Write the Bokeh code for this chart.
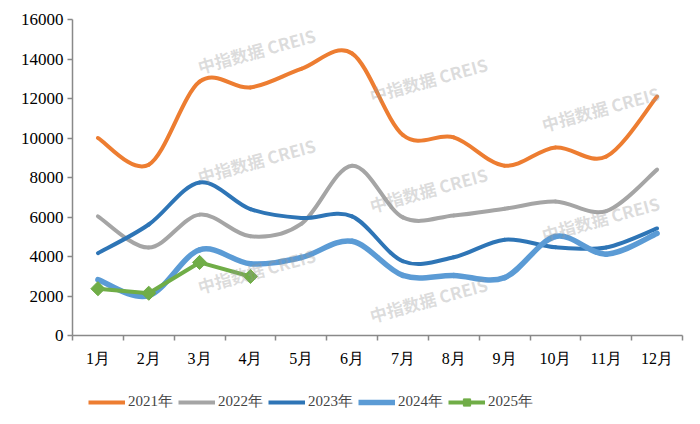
from bokeh.plotting import figure
from bokeh.layouts import column
from bokeh.models import (FixedTicker, ColumnDataSource, Legend, LegendItem,
                          Range1d, Label)
from bokeh.embed import file_html
from bokeh.resources import INLINE

# data
months = ["1月", "2月", "3月", "4月", "5月", "6月",
          "7月", "8月", "9月", "10月", "11月", "12月"]
y2021 = [10000, 8650, 12850, 12560, 13500, 14280, 10150, 10030, 8600, 9520, 9060, 12100]
y2022 = [6030, 4450, 6120, 5020, 5650, 8600, 5980, 6080, 6420, 6780, 6300, 8400]
y2023 = [4170, 5620, 7750, 6400, 5950, 6030, 3760, 3960, 4850, 4470, 4460, 5420]
y2024 = [2830, 2020, 4340, 3630, 3950, 4770, 3040, 3040, 2930, 5010, 4120, 5170]
y2025 = [2370, 2140, 3700, 2990]

series = [("2021年", y2021, "#ED7D31", 4),
          ("2022年", y2022, "#A5A5A5", 4),
          ("2023年", y2023, "#2E75B6", 4),
          ("2024年", y2024, "#5B9BD5", 5.5)]
GREEN = "#70AD47"

FONT = "Liberation Serif"
WATERMARK = "中指数据 CREIS"

p = figure(width=700, height=384, output_backend="svg", toolbar_location=None,
           x_range=Range1d(0, 12), y_range=Range1d(0, 16000))
p.min_border_left = 72
p.min_border_top = 19
p.min_border_right = 18
p.min_border_bottom = 49
p.outline_line_color = None
p.xgrid.visible = False
p.ygrid.visible = False

xs = [i + 0.5 for i in range(len(months))]


def smooth(x, y):
    # catmull-rom style control points, like office "smoothed line"
    n = len(x)
    d = dict(x0=[], y0=[], x1=[], y1=[], cx0=[], cy0=[], cx1=[], cy1=[])
    for i in range(n - 1):
        xp, yp = (x[i - 1], y[i - 1]) if i > 0 else (x[i], y[i])
        xn, yn = (x[i + 2], y[i + 2]) if i + 2 < n else (x[i + 1], y[i + 1])
        d["x0"].append(x[i]); d["y0"].append(y[i])
        d["x1"].append(x[i + 1]); d["y1"].append(y[i + 1])
        d["cx0"].append(x[i] + (x[i + 1] - xp) / 6)
        d["cy0"].append(y[i] + (y[i + 1] - yp) / 6)
        d["cx1"].append(x[i + 1] - (xn - x[i]) / 6)
        d["cy1"].append(y[i + 1] - (yn - y[i]) / 6)
    return ColumnDataSource(d)


for name, vals, col, w in series:
    src = smooth(xs, vals)
    p.bezier("x0", "y0", "x1", "y1", "cx0", "cy0", "cx1", "cy1", source=src,
             line_color=col, line_width=w, line_cap="round")

p.line(xs[:len(y2025)], y2025, line_color=GREEN, line_width=4)
p.scatter(xs[:len(y2025)], y2025, marker="square", angle=0.785,
          size=10, fill_color=GREEN, line_color=GREEN)

# faint watermark, tilted, in a staggered grid (screen px inside the frame)
for cx in range(3):
    for ry in range(3):
        if cx == 2 and ry == 0:
            continue
        sx = 184 + 172 * cx
        sy = 285 - 29 * cx - 110 * ry
        if cx == 2:
            sy += 110
        p.add_layout(Label(x=sx, y=sy, x_units="screen", y_units="screen",
                           text=WATERMARK, angle=0.27, text_align="center",
                           text_baseline="middle", text_font="Noto Sans CJK SC",
                           text_font_style="bold", text_font_size="17px",
                           text_color="#9a9a9a", text_alpha=0.35))

# axes
p.xaxis.ticker = FixedTicker(ticks=xs, minor_ticks=list(range(13)))
p.xaxis.major_label_overrides = {x: m for x, m in zip(xs, months)}
p.xaxis.major_tick_out = 0
p.xaxis.major_tick_in = 0
p.xaxis.minor_tick_out = 5
p.xaxis.minor_tick_in = 0
p.xaxis.major_label_standoff = 9
p.xaxis.major_label_text_font_size = "16px"

p.yaxis.ticker = FixedTicker(ticks=list(range(0, 16001, 2000)))
p.yaxis.major_tick_out = 5
p.yaxis.major_tick_in = 0
p.yaxis.minor_tick_out = 0
p.yaxis.minor_tick_in = 0
p.yaxis.major_label_standoff = 4
p.yaxis.major_label_text_font_size = "17px"

for ax in (p.xaxis, p.yaxis):
    ax.axis_line_color = "#898989"
    ax.axis_line_width = 1.5
    ax.major_tick_line_color = "#898989"
    ax.minor_tick_line_color = "#898989"
    ax.major_tick_line_width = 1.5
    ax.minor_tick_line_width = 1.5
    ax.major_label_text_font = FONT
    ax.major_label_text_color = "#000000"

# legend strip underneath, in its own small figure
lg = figure(width=700, height=40, output_backend="svg", toolbar_location=None,
            x_range=Range1d(0, 12), y_range=Range1d(0, 16000),
            x_axis_location=None, y_axis_location=None)
lg.min_border = 0
lg.outline_line_color = None
lg.xgrid.visible = False
lg.ygrid.visible = False

items = []
for name, vals, col, w in series:
    key = lg.line(xs, vals, line_color=col, line_width=w)
    key.visible = False
    items.append(LegendItem(label=name, renderers=[key]))
k_line = lg.line(xs[:len(y2025)], y2025, line_color=GREEN, line_width=4)
k_pts = lg.scatter(xs[:len(y2025)], y2025, marker="square", angle=0.785,
                   size=7, fill_color=GREEN, line_color=GREEN)
k_line.visible = False
k_pts.visible = False
items.append(LegendItem(label="2025年", renderers=[k_line, k_pts]))

legend = Legend(items=items, orientation="horizontal", location=(16, 13),
                glyph_width=37, glyph_height=18, label_text_font=FONT,
                label_text_font_size="15px", label_standoff=3, spacing=5,
                border_line_color=None, background_fill_alpha=0, margin=0,
                padding=0)
lg.add_layout(legend)

open("out.html", "w").write(file_html(column(p, lg, spacing=0), INLINE))
